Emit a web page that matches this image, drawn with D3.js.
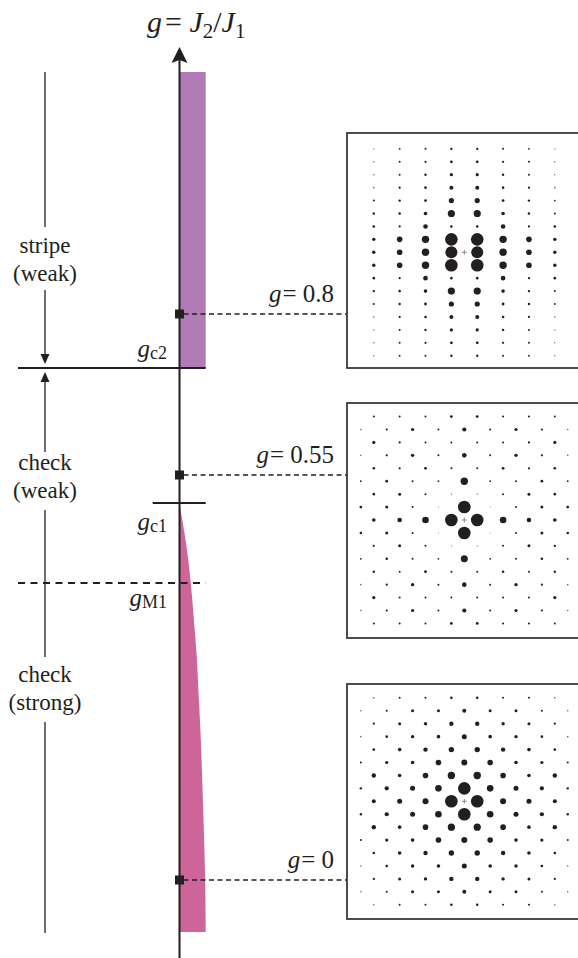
<!DOCTYPE html>
<html><head><meta charset="utf-8">
<script src="https://cdn.jsdelivr.net/npm/d3@7"></script>
<style>
body{margin:0;background:#fff}
svg{display:block}
text, tspan{font-family:"Liberation Serif", Tinos, "Times New Roman", Times, serif}
</style>
</head><body>
<svg id="chart" width="578" height="958"></svg>
<script>
// ---------------- data ----------------
// phase transition points on the g axis
const transitionNames = ["c2", "c1", "M1"];
const transitionG = [0.7, 0.5, 0.4];
// sampled couplings shown in the panels
const sampleG = [0.8, 0.55, 0];
const sampleLabels = ["0.8", "0.55", "0"];
// stripe order parameter (constant band)
const stripeG = [0.7, 1.25];
const stripeM = [1, 1];
// check order parameter vs g
const checkG = [-0.07, 0, 0.1, 0.2, 0.25, 0.3, 0.35, 0.4, 0.45, 0.48, 0.5];
const checkM = [1.0, 0.98, 0.9, 0.8, 0.73, 0.66, 0.55, 0.43, 0.25, 0.1, 0];
// phase names
const phaseNames = [["stripe", "(weak)"], ["check", "(weak)"], ["check", "(strong)"]];
// correlation amplitudes (rows k=-8..8; 8-entry rows on odd i, 9-entry rows on even i)
const stripeCorr = [
  [7,9,10,12,12,10,9,7],
  [7,10,11,14,14,11,10,7],
  [7,10,12,16,16,12,10,7],
  [8,11,13,20,20,13,11,8],
  [10,12,14,26,26,14,12,9],
  [12,13,18,36,36,18,12,10],
  [13,11,23,13,13,23,11,13],
  [17,28,37,63,63,37,28,17],
  [17,28,37,60,60,37,28,17],
  [17,28,37,63,63,37,28,17],
  [13,11,23,13,13,23,11,13],
  [12,13,18,36,36,18,12,10],
  [10,12,14,26,26,14,12,9],
  [8,11,13,20,20,13,11,8],
  [7,10,12,16,16,12,10,7],
  [7,10,11,14,14,11,10,7],
  [7,9,10,12,12,10,9,7]
];
const checkWeakCorr = [
  [10,10,10,14,14,10,10,10],
  [8,11,16,10,21,10,16,11,8],
  [16,11,10,10,10,10,11,16],
  [8,11,17,10,23,10,17,11,8],
  [13,11,14,10,10,14,11,13],
  [9,14,10,9,37,9,10,14,9],
  [13,15,10,6,6,10,15,13],
  [14,15,10,5,63,5,10,15,14],
  [18,23,33,63,63,33,23,18],
  [13,15,10,5,63,5,10,15,13],
  [11,15,10,6,6,10,15,12],
  [9,13,10,9,35,9,10,13,9],
  [12,10,14,10,10,13,10,12],
  [8,11,17,10,23,10,17,11,8],
  [16,10,10,10,10,10,10,16],
  [8,11,16,10,21,10,16,11,8],
  [10,10,10,14,14,10,10,10]
];
const checkStrongCorr = [
  [8,10,10,13,13,10,10,8],
  [8,10,15,15,20,15,15,10,8],
  [11,15,17,22,22,17,15,11],
  [8,13,17,18,25,18,17,13,8],
  [13,18,22,27,27,22,18,13],
  [10,16,18,28,30,28,18,16,10],
  [22,18,28,37,37,28,18,22],
  [12,21,25,33,63,33,25,21,12],
  [20,25,30,63,63,30,25,20],
  [12,21,25,33,63,33,25,21,12],
  [22,18,28,36,36,28,18,22],
  [10,16,18,28,30,28,18,16,10],
  [13,18,22,27,27,22,18,13],
  [8,13,17,18,25,18,17,13,8],
  [11,15,17,22,22,17,15,11],
  [8,10,15,15,20,15,15,10,8],
  [8,10,10,13,13,10,10,8]
];
const panelData = [stripeCorr, checkWeakCorr, checkStrongCorr];

// ---------------- layout ----------------
const ink = "#231f20";
const fontStack = "Liberation Serif, Tinos, Times New Roman, Times, serif";
const axisX = 179.5;
const svg = d3.select("#chart").attr("font-family", fontStack);
const txt = (sel) => sel.append("text").attr("font-family", fontStack).attr("fill", ink);

// piecewise (schematic) coupling axis
const gScale = d3.scaleLinear()
  .domain([0, 0.4, 0.5, 0.55, 0.7, 0.8, 1.25])
  .range([880, 583, 503, 475, 368, 314, 72]);
const mScale = d3.scaleLinear().domain([0, 1]).range([axisX, 205.7]);

// stripe band
const stripeArea = d3.area()
  .y(d => gScale(d[0])).x0(mScale(0)).x1(d => mScale(d[1]));
svg.append("path")
  .datum(d3.zip(stripeG, stripeM))
  .attr("d", stripeArea)
  .attr("fill", "#b17bb5");

// check order parameter
const checkArea = d3.area()
  .y(d => gScale(d[0])).x0(mScale(0)).x1(d => mScale(d[1]))
  .curve(d3.curveMonotoneY);
svg.append("path")
  .datum(d3.zip(checkG, checkM))
  .attr("d", checkArea)
  .attr("fill", "#cd6598");

// main axis
svg.append("line")
  .attr("x1", axisX).attr("x2", axisX)
  .attr("y1", 958).attr("y2", 58)
  .attr("stroke", ink).attr("stroke-width", 2);
svg.append("path")
  .attr("d", `M${axisX},47 L${axisX-8},63 L${axisX},60 L${axisX+8},63 Z`)
  .attr("fill", ink);

// title
const title = txt(svg).attr("x", 147).attr("y", 32).attr("font-size", 30);
title.append("tspan").attr("font-style", "italic").text("g");
title.append("tspan").attr("dx", 3).text("= ");
title.append("tspan").attr("font-style", "italic").text("J");
title.append("tspan").attr("font-size", 21).attr("dy", 6).text("2");
title.append("tspan").attr("dy", -6).text("/");
title.append("tspan").attr("font-style", "italic").text("J");
title.append("tspan").attr("font-size", 21).attr("dy", 6).text("1");

// transition lines
const leftX = 18;
svg.append("line")
  .attr("x1", leftX).attr("x2", mScale(1))
  .attr("y1", gScale(transitionG[0])).attr("y2", gScale(transitionG[0]))
  .attr("stroke", ink).attr("stroke-width", 2);
svg.append("line")
  .attr("x1", 152.7).attr("x2", mScale(1))
  .attr("y1", gScale(transitionG[1])).attr("y2", gScale(transitionG[1]))
  .attr("stroke", ink).attr("stroke-width", 2);
svg.append("line")
  .attr("x1", leftX).attr("x2", mScale(1))
  .attr("y1", gScale(transitionG[2])).attr("y2", gScale(transitionG[2]))
  .attr("stroke", ink).attr("stroke-width", 2)
  .attr("stroke-dasharray", "7,5.5");

// transition labels
const transLabelDy = [-11, 27, 23];
transitionNames.forEach((n, i) => {
  const t = txt(svg)
    .attr("x", 167).attr("y", gScale(transitionG[i]) + transLabelDy[i])
    .attr("text-anchor", "end").attr("font-size", 25);
  t.append("tspan").attr("font-style", "italic").text("g");
  t.append("tspan").attr("font-size", 18).attr("dy", 2).text(n);
});

// phase arrows and names on the left
const phaseX = 45;
const vline = (y1, y2) => svg.append("line")
  .attr("x1", phaseX).attr("x2", phaseX).attr("y1", y1).attr("y2", y2)
  .attr("stroke", ink).attr("stroke-width", 1.3);
vline(72, 227);
vline(290, 356);
svg.append("path").attr("d", `M${phaseX},364 L${phaseX-4.5},354 L${phaseX+4.5},354 Z`).attr("fill", ink);
svg.append("path").attr("d", `M${phaseX},372 L${phaseX-4.5},382 L${phaseX+4.5},382 Z`).attr("fill", ink);
vline(380, 452);
vline(510, 657);
vline(722, 933);
const phaseY = [252.5, 470, 682];
phaseNames.forEach((p, i) => {
  p.forEach((s, j) => {
    txt(svg).attr("x", phaseX).attr("y", phaseY[i] + j * 28)
      .attr("text-anchor", "middle").attr("font-size", 23).text(s);
  });
});

// sample markers, dashed leaders and labels
const panelX = 347, panelW = 236, panelH = 235;
const panelTop = [133, 403, 684];
const panelCY = [252.3, 520, 801.3];
sampleG.forEach((g, i) => {
  const y = gScale(g);
  svg.append("line")
    .attr("x1", axisX + 4).attr("x2", panelX).attr("y1", y).attr("y2", y)
    .attr("stroke", ink).attr("stroke-width", 1.5).attr("stroke-dasharray", "5,3.5");
  svg.append("rect").attr("x", axisX - 4.5).attr("y", y - 4.5)
    .attr("width", 9).attr("height", 9).attr("fill", ink);
  const t = txt(svg).attr("x", 334).attr("y", y - 12)
    .attr("text-anchor", "end").attr("font-size", 25);
  t.append("tspan").attr("font-style", "italic").text("g");
  t.append("tspan").attr("dx", 1).text("= " + sampleLabels[i]);
});

// panels
const sp = 12.93;
const rScale = d3.scaleLinear().domain([0, 63]).range([0, 6.3]);
panelData.forEach((rows, p) => {
  const g = svg.append("g");
  g.append("rect").attr("x", panelX).attr("y", panelTop[p])
    .attr("width", panelW).attr("height", panelH)
    .attr("fill", "none").attr("stroke", "#3a3a3a").attr("stroke-width", 1.8);
  const cx = 464.3, cy = panelCY[p];
  const xs = d3.scaleLinear().domain([-8, 8]).range([cx - 8 * sp, cx + 8 * sp]);
  const ys = d3.scaleLinear().domain([-8, 8]).range([cy - 8 * sp, cy + 8 * sp]);
  const pts = [];
  rows.forEach((row, r) => {
    const k = r - 8;
    const i0 = row.length === 9 ? -8 : -7;
    row.forEach((v, c) => pts.push({i: i0 + 2 * c, k, v}));
  });
  g.selectAll("circle").data(pts).join("circle")
    .attr("cx", d => xs(d.i)).attr("cy", d => ys(d.k))
    .attr("r", d => rScale(d.v))
    .attr("fill", d => d.v <= 8 ? "#666" : ink);
  g.append("path")
    .attr("d", `M${xs(0)-2.5},${ys(0)} h5 M${xs(0)},${ys(0)-2.5} v5`)
    .attr("stroke", "#8a8a8a").attr("stroke-width", 1);
});
</script>
</body></html>
